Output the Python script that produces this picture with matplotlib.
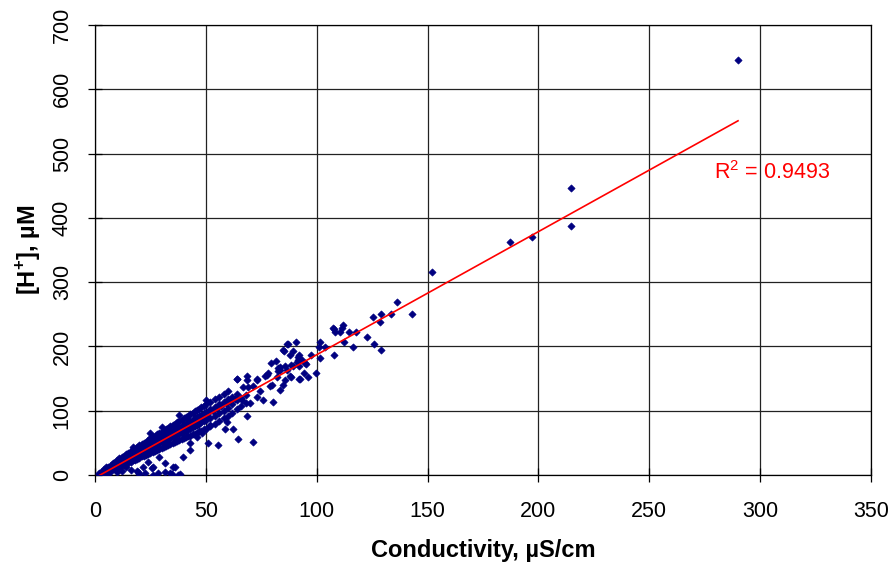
import numpy as np
import matplotlib.pyplot as plt

plt.rcParams['font.family'] = ['Liberation Sans', 'DejaVu Sans']
plt.rcParams['mathtext.fontset'] = 'custom'
plt.rcParams['mathtext.rm'] = 'Liberation Sans'
plt.rcParams['mathtext.bf'] = 'Liberation Sans:bold'

# dense band of samples (conductivity uS/cm, [H+] uM), read column by column
cond_band = [2, 2,
             3, 3, 3, 4, 4, 4, 5, 5, 5, 6, 6, 6, 7, 7, 7,
             8, 8, 8, 8, 9, 9, 9, 9, 10, 10, 10, 10, 11, 11, 11, 11,
             12, 12, 12, 12, 13, 13, 13, 13, 14, 14, 14, 14, 15, 15, 15, 15,
             16, 16, 16, 16, 17, 17, 17, 17, 17, 18, 18, 18, 18, 19, 19, 19, 19,
             20, 20, 20, 20, 21, 21, 21, 21, 22, 22, 22, 22, 23, 23, 23, 23,
             24, 24, 24, 24, 25, 25, 25, 25, 25, 26, 26, 26, 26, 27, 27, 27, 27,
             28, 28, 28, 28, 29, 29, 29, 29, 30, 30, 30, 30, 30, 31, 31, 31, 31,
             32, 32, 32, 32, 33, 33, 33, 33, 34, 34, 34, 34, 35, 35, 35, 35,
             36, 36, 36, 36, 37, 37, 37, 37, 38, 38, 38, 38, 38, 39, 39, 39, 39,
             40, 40, 40, 40, 41, 41, 41, 41, 42, 42, 42, 42, 43, 43, 43, 43,
             44, 44, 44, 44, 45, 45, 45, 45, 46, 46, 46, 46, 47, 47, 47, 47,
             48, 48, 48, 48, 49, 49, 49, 49, 50, 50, 50, 50, 50,
             52, 52, 52, 52, 54, 54, 54, 54, 56, 56, 56, 56, 58, 58, 58, 58,
             60, 60, 60, 60, 62, 62, 62, 64, 64, 64, 66, 66, 68, 68]
h_band = [1, 3,
          2, 4, 6, 3, 6, 9, 4, 8, 12, 6, 9, 13, 7, 11, 15,
          9, 13, 17, 19, 10, 14, 18, 21, 12, 16, 20, 24, 13, 18, 22, 26,
          15, 20, 24, 28, 16, 21, 26, 30, 18, 23, 28, 32, 19, 25, 30, 35,
          21, 27, 32, 37, 23, 29, 34, 39, 44, 24, 30, 36, 41, 25, 32, 38, 43,
          27, 34, 40, 46, 29, 36, 42, 48, 30, 37, 44, 50, 31, 39, 46, 52,
          33, 41, 48, 54, 34, 42, 50, 57, 65, 36, 44, 52, 59, 37, 46, 54, 61,
          39, 47, 56, 63, 41, 49, 57, 65, 42, 51, 59, 67, 75, 44, 53, 61, 69,
          45, 54, 63, 71, 46, 56, 65, 73, 48, 58, 67, 76, 50, 59, 69, 78,
          51, 61, 71, 80, 53, 63, 72, 82, 54, 64, 74, 84, 93, 56, 66, 76, 86,
          57, 68, 78, 88, 59, 69, 80, 90, 60, 71, 82, 92, 61, 72, 84, 95,
          63, 74, 86, 97, 64, 76, 88, 99, 66, 78, 90, 101, 68, 80, 92, 103,
          69, 82, 94, 106, 71, 84, 96, 108, 72, 86, 98, 110, 116,
          76, 89, 102, 114, 80, 92, 106, 118, 84, 96, 110, 122, 88, 100, 114, 126,
          92, 104, 118, 130, 96, 110, 122, 102, 116, 126, 108, 120, 112, 124]

# in-between band samples (fill the gaps between the columns above)
cond_fill = [2.5, 3.5, 4.5, 5.5, 6.5, 7.5, 8.5, 9.5, 10.5, 11.5, 12.5, 13.5,
             14.5, 15.5, 16.5, 17.5, 18.5, 19.5, 20.5, 21.5, 22.5, 23.5, 24.5,
             25.5, 26.5, 27.5, 28.5, 29.5, 30.5, 31.5, 32.5, 33.5, 34.5, 35.5,
             36.5, 37.5, 38.5, 39.5, 40.5, 41.5, 42.5, 43.5, 44.5, 45.5, 46.5,
             47.5, 48.5, 49.5, 51, 53, 55, 57, 59, 61, 63]
h_fill = [3, 5, 6, 9, 10, 12, 14, 16, 18, 20, 22, 24,
          25, 27, 29, 31, 33, 35, 37, 39, 41, 43, 45,
          46, 48, 50, 52, 54, 56, 58, 60, 62, 64, 65,
          67, 69, 71, 73, 74, 76, 78, 80, 82, 84, 86,
          87, 89, 91, 96, 100, 104, 108, 112, 116, 118]

# scattered samples below the band
cond_low = [14, 16, 19, 19.5, 20, 21.8, 22.6, 24, 25.6, 26.3, 26.3, 28.6, 29,
            31.6, 31.6, 33.8, 34.6, 35.3, 36.1, 37.6, 38.5, 39.8, 42.8, 42.8,
            45.9, 48.1, 51.1, 51.9, 55.6, 58.6, 59.4, 62.4, 64.6, 68.4, 71.4,
            10, 12, 6]
h_low = [12, 8, 7, 5, 2, 12, 2.6, 20, 10.4, 0, 13, 2.6, 28,
         5, 18, 2.6, 1, 13, 12, 0, 1, 28.5, 39, 50,
         59.6, 65, 50, 78, 46.6, 71, 83, 71, 55.5, 92, 52,
         4, 6, 2]

# mid range samples
cond_mid = [63.9, 64.2, 66.2, 66.9, 68.4, 68.4, 69, 69.9, 71.4, 72.9, 72.9, 72.9,
            74.4, 75.9, 76.7, 77.4, 77.9, 79, 79.2, 79.7, 80.2, 81.5, 82, 82.7,
            82.7, 83.4, 83.4, 83.4, 85, 85, 85.3, 85.7, 85.7, 86.4, 86.5, 86.9,
            88, 88, 88.3, 88.3, 89.2, 89.5, 90.8, 91, 91.7, 91.7, 92, 92, 92,
            92.5, 93.2, 94.3, 94.7, 95, 96.2, 97.4, 99.5, 101.2, 101.5, 101.5,
            103.7, 107.5, 107.8, 107.8, 108.3, 110.5, 111.3, 112, 112.5, 114.6,
            116.5, 117.6, 122.5, 125.5, 126, 128.5, 129, 129, 133.4, 136.1, 143]
h_mid = [150, 150, 117, 137, 154, 148, 137, 112, 138, 148, 149, 122,
         130, 117, 154, 156, 158, 138, 174, 140, 114, 177, 153, 161,
         166, 163, 168, 132, 140, 194, 193, 148, 169, 203, 164, 204,
         154, 187, 171, 153, 193, 170, 207, 176, 179, 184, 150, 169, 186,
         149, 179, 158, 174, 173, 152, 186, 158, 199, 207, 182,
         199, 228, 186, 227, 222, 222, 228, 234, 207, 222,
         199, 222, 214, 245, 203, 238, 250, 194, 250, 269, 250]

# high samples
cond_high = [152, 187, 197, 214.6, 214.6, 290]
h_high = [315, 362, 370, 446, 388, 645]

# linear trend line
slope = 1.915
intercept = -4.4
r2 = 0.9493

cond = np.array(cond_band + cond_fill + cond_low + cond_mid + cond_high)
hplus = np.array(h_band + h_fill + h_low + h_mid + h_high)

fig = plt.figure(figsize=(8.89, 5.64), dpi=100)
ax = fig.add_axes([0.1069, 0.1578, 0.8729, 0.7979])

ax.scatter(cond, hplus, marker='D', s=14, color='#000080',
           edgecolors='#000080', linewidths=0.4, zorder=3)

xl = np.array([cond.min(), cond.max()])
ax.plot(xl, slope * xl + intercept, color='red', lw=1.2, zorder=4)
ax.text(279, 471, 'R$^2$ = %.4f' % r2, color='red', fontsize=15.5, va='center')

ax.set_xlim(0, 350)
ax.set_ylim(0, 700)
ax.set_xticks(np.arange(0, 351, 50))
ax.set_yticks(np.arange(0, 701, 100))
ax.grid(True, color='#222222', lw=0.9)
ax.set_axisbelow(True)
for s in ax.spines.values():
    s.set_color('black')
    s.set_linewidth(0.9)

ax.tick_params(direction='inout', length=10, width=0.9, labelsize=15.5)
ax.tick_params(axis='x', pad=14)
ax.tick_params(axis='y', pad=11)
plt.setp(ax.get_yticklabels(), rotation=90, va='center')

ax.set_xlabel('Conductivity, µS/cm', fontsize=17, fontweight='bold', labelpad=12)
ax.set_ylabel(r'[H$^{\mathbf{+}}$], µM', fontsize=17, fontweight='bold', labelpad=6)

fig.savefig('out.png', dpi=100)
